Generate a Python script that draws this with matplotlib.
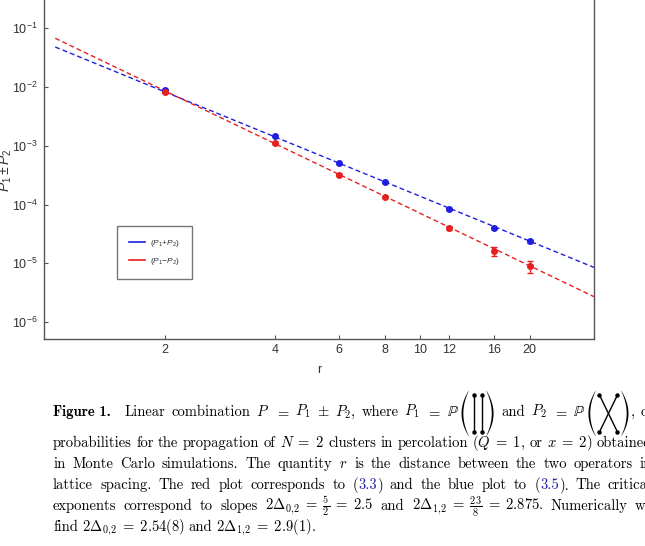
import numpy as np
import matplotlib
matplotlib.use("Agg")
import matplotlib.pyplot as plt
from matplotlib.patches import Polygon
from matplotlib.ticker import FixedLocator, FixedFormatter, NullLocator

W, H = 645, 546

# data
r = [2, 4, 6, 8, 12, 16, 20]
p_plus = [8.9e-3, 1.48e-3, 5.0e-4, 2.41e-4, 8.45e-5, 4.0e-5, 2.35e-5]
p_plus_err = [2e-4, 4e-5, 1.2e-5, 6e-6, 2.5e-6, 1.5e-6, 1.2e-6]
p_minus = [8.2e-3, 1.11e-3, 3.2e-4, 1.34e-4, 4.0e-5, 1.6e-5, 9.0e-6]
p_minus_err = [2e-4, 4e-5, 1.2e-5, 5e-6, 3e-6, 2.7e-6, 2.1e-6]

# power-law fits, end points of the straight lines in log-log
fit_r = [1.0, 30.0]
fit_plus = [0.048, 8.5e-6]
fit_minus = [0.0676, 2.7e-6]

x_ticks = [2, 4, 6, 8, 10, 12, 16, 20]
y_ticks = [1e-6, 1e-5, 1e-4, 1e-3, 1e-2, 1e-1]
y_tick_labels = [r"$10^{-6}$", r"$10^{-5}$", r"$10^{-4}$", r"$10^{-3}$", r"$10^{-2}$", r"$10^{-1}$"]

blue = "#1f1fe0"
red = "#e52020"
gray = "#555555"
dark = "#333333"

plt.rcParams["font.family"] = ["Liberation Sans", "DejaVu Sans"]
plt.rcParams["mathtext.fontset"] = "custom"
plt.rcParams["mathtext.rm"] = "Liberation Sans"
plt.rcParams["mathtext.it"] = "Liberation Sans:italic"
plt.rcParams["mathtext.bf"] = "Liberation Sans:bold"

fig = plt.figure(figsize=(W / 100, H / 100), dpi=100)
ax = fig.add_axes([44 / W, 1 - 339 / H, 550 / W, 339 / H])
ax.set_xscale("log")
ax.set_yscale("log")

ax.plot(fit_r, fit_plus, color=blue, lw=1.0, dashes=(3.5, 2.2))
ax.plot(fit_r, fit_minus, color=red, lw=1.0, dashes=(3.5, 2.2))
ax.errorbar(r, p_plus, yerr=p_plus_err, fmt="o", color=blue, ms=4, elinewidth=1, capsize=2)
ax.errorbar(r, p_minus, yerr=p_minus_err, fmt="o", color=red, ms=4, elinewidth=1, capsize=2)

ax.set_xlim(0.9315, 30.0)
ax.set_ylim(5.14e-7, 0.303)

ax.xaxis.set_major_locator(FixedLocator(x_ticks))
ax.xaxis.set_major_formatter(FixedFormatter([str(t) for t in x_ticks]))
ax.xaxis.set_minor_locator(NullLocator())
ax.yaxis.set_major_locator(FixedLocator(y_ticks))
ax.yaxis.set_major_formatter(FixedFormatter(y_tick_labels))
ax.yaxis.set_minor_locator(NullLocator())
ax.tick_params(direction="in", length=3, width=0.8, color=gray, labelsize=9, labelcolor=dark)
ax.tick_params(axis="y", pad=4.5)
ax.tick_params(axis="x", pad=3.5)
ax.tick_params(top=False, right=False)
ax.spines["top"].set_visible(False)
for s in ["left", "right", "bottom"]:
    ax.spines[s].set_color(gray)
    ax.spines[s].set_linewidth(1.0)

# legend
h1, = ax.plot([], [], color=blue, lw=1.2)
h2, = ax.plot([], [], color=red, lw=1.2)
leg = ax.legend([h1, h2], [r"$(P_1{+}P_2)$", r"$(P_1{-}P_2)$"],
                loc="upper left", bbox_to_anchor=(117 / W, 1 - 226 / H),
                bbox_transform=fig.transFigure, fontsize=6, frameon=True,
                fancybox=False, borderpad=1.45, labelspacing=0.85,
                handlelength=1.9, handletextpad=0.6, borderaxespad=0)
leg.get_frame().set_edgecolor(gray)
leg.get_frame().set_linewidth(1.0)
for t in leg.get_texts():
    t.set_color(dark)

fig.text(6 / W, 1 - 170 / H, r"$P_1\pm P_2$", rotation=90, fontsize=10,
         color=dark, ha="center", va="center")
fig.text(319 / W, 1 - 370 / H, "r", fontsize=9, color=dark, ha="center", va="center")

# caption, laid out in pixel coordinates
cax = fig.add_axes([0, 0, 1, 1])
cax.set_xlim(0, W)
cax.set_ylim(H, 0)
cax.axis("off")

FS = 10.5
rm = dict(family="cmr10", math_fontfamily="cm", fontsize=FS, color="black")
bf = dict(family="cmb10", math_fontfamily="cm", fontsize=FS, color="black")
link = dict(rm, color="#1c1ca8")

fig.canvas.draw()
renderer = fig.canvas.get_renderer()


def text_width(s, kw):
    t = cax.text(0, 0, s, va="baseline", **kw)
    w = t.get_window_extent(renderer).width
    t.remove()
    return w


DIAG_W = {"par": 9, "d1": 16, "d2": 24}


def item_width(it):
    if it[0] == "t":
        return text_width(it[1], it[2])
    return 2 + DIAG_W["par"] * 2 + DIAG_W[it[1]] + 1


def paren(x, top, bot, left=True):
    t = np.linspace(-1, 1, 40)
    yc = (top + bot) / 2
    hh = (bot - top) / 2
    wid = DIAG_W["par"] - 2
    outer = wid * t ** 2
    inner = outer + 1.5 * (1 - t ** 2) + 0.3
    if left:
        xo = x + 1 + outer
        xi = x + 1 + inner
    else:
        xo = x + DIAG_W["par"] - 1 - outer
        xi = x + DIAG_W["par"] - 1 - inner
    pts = np.concatenate([np.column_stack([xo, yc + hh * t]),
                          np.column_stack([xi[::-1], (yc + hh * t)[::-1]])])
    cax.add_patch(Polygon(pts, closed=True, facecolor="black", edgecolor="none"))


def draw_diag(kind, x, yb):
    top, bot = yb - 25, yb + 20
    x += 2
    paren(x, top, bot, left=True)
    xi = x + DIAG_W["par"]
    w = DIAG_W[kind]
    if kind == "d1":
        for xx in [xi + 4, xi + 12]:
            cax.plot([xx, xx], [top + 4, bot - 4], color="black", lw=1.0)
            cax.plot([xx, xx], [top + 4, bot - 4], "o", color="black", ms=2.2)
    else:
        cax.plot([xi + 3, xi + w - 3], [top + 4, bot - 4], color="black", lw=1.0)
        cax.plot([xi + w - 3, xi + 3], [top + 4, bot - 4], color="black", lw=1.0)
        cax.plot([xi + 3, xi + w - 3, xi + 3, xi + w - 3],
                 [top + 4, top + 4, bot - 4, bot - 4], "o", color="black", ms=2.2)
    paren(xi + w, top, bot, left=False)


def words(s, kw=rm):
    # split on "|" so that math with inner spaces stays one word
    return [[("t", w, kw)] for w in s.split("|")]


X0, X1 = 53, 652

line1 = ([[("t", "Figure 1.", bf)]]
         + words("Linear|combination|$P$|$=$|$P_1$|$\\pm$|$P_2$,|where|$P_1$|$=$")
         + [[("t", r"$\mathbb{P}$", rm), ("d", "d1")]] + words("and|$P_2$|$=$")
         + [[("t", r"$\mathbb{P}$", rm), ("d", "d2"), ("t", ",", rm)]] + words("of"))
line2 = words(r"probabilities|for|the|propagation|of|$N\;=\;2$|clusters|in|percolation|($Q\;=\;1$,|or|$x\;=\;2$)|obtained")
line3 = words("in|Monte|Carlo|simulations.|The|quantity|$r$|is|the|distance|between|the|two|operators|in")
line4 = (words("lattice|spacing.|The|red|plot|corresponds|to")
         + [[("t", "(", rm), ("t", "3.3", link), ("t", ")", rm)]]
         + words("and|the|blue|plot|to")
         + [[("t", "(", rm), ("t", "3.5", link), ("t", ").", rm)]]
         + words("The|critical"))
line5 = words(r"exponents|correspond|to|slopes|$2\Delta_{0,\!2}\;=\;\frac{5}{2}\;=\;2.5$|and|$2\Delta_{1,\!2}\;=\;\frac{23}{8}\;=\;2.875$.|Numerically|we")
line6 = words(r"find|$2\Delta_{0,\!2}\;=\;2.54(8)$|and|$2\Delta_{1,\!2}\;=\;2.9(1)$.")

lines = [(line1, 416, True), (line2, 447, True), (line3, 468, True),
         (line4, 489, True), (line5, 510, True), (line6, 531, False)]

for toks, yb, justify in lines:
    widths = [[item_width(it) for it in tok] for tok in toks]
    total = sum(sum(w) for w in widths)
    extra = 8 if toks is line1 else 0
    if justify:
        gap = (X1 - X0 - total - extra) / (len(toks) - 1)
    else:
        gap = 3.7
    x = X0
    for i, (tok, ws) in enumerate(zip(toks, widths)):
        for it, w in zip(tok, ws):
            if it[0] == "t":
                cax.text(x, yb, it[1], va="baseline", ha="left", **it[2])
            else:
                draw_diag(it[1], x, yb)
            x += w
        x += gap
        if i == 0 and toks is line1:
            x += extra

fig.savefig("out.png", dpi=100)
